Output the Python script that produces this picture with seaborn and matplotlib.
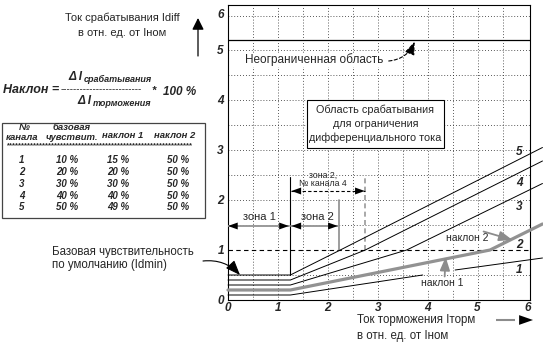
import numpy as np
import pandas as pd
import matplotlib
matplotlib.use('Agg')
import matplotlib.pyplot as plt
from matplotlib.patches import Rectangle
import seaborn as sns

W, H = 543, 352

# Таблица каналов
channels = ['1', '2', '3', '4', '5']
base_sens = ['10 %', '20 %', '30 %', '40 %', '50 %']
slope_1 = ['15 %', '20 %', '30 %', '40 %', '49 %']
slope_2 = ['50 %', '50 %', '50 %', '50 %', '50 %']

# Точки излома характеристик, отн. ед.
ch1_x = [0, 1.25, 3.9]
ch1_y = [0.1, 0.1, 0.50]
ch1b_x = [4.55, 6.3]
ch1b_y = [0.6, 0.84]
ch2_x = [0, 1.25, 5.25, 6.3]
ch2_y = [0.2, 0.2, 1.0, 1.52]
ch3_x = [0, 1.25, 3.58, 6.3]
ch3_y = [0.3, 0.3, 1.0, 2.33]
ch4_x = [0, 1.25, 2.75, 6.3]
ch4_y = [0.4, 0.4, 1.0, 2.78]
ch5_x = [0, 1.25, 2.25, 6.3]
ch5_y = [0.5, 0.5, 1.0, 3.05]

# подписи характеристик справа
curve_label_y = [0.6, 1.1, 1.86, 2.34, 2.96]
x_ticks = [0, 1, 2, 3, 4, 5, 6]
y_ticks = [0, 1, 2, 3, 4, 5, 5.74]
y_tick_labels = ['0', '1', '2', '3', '4', '5', '6']


def F(px, py):
    """пиксели картинки -> доли фигуры"""
    return (px / W, 1 - py / H)


rows = []
for ch, seg, xs, ys in [('1', 'a', ch1_x, ch1_y), ('1', 'b', ch1b_x, ch1b_y),
                        ('2', 'a', ch2_x, ch2_y), ('3', 'a', ch3_x, ch3_y),
                        ('4', 'a', ch4_x, ch4_y), ('5', 'a', ch5_x, ch5_y)]:
    for x, y in zip(xs, ys):
        rows.append({'ch': ch, 'seg': seg, 'x': x, 'y': y})
df = pd.DataFrame(rows)

sns.set_style('white')
plt.rcParams['font.family'] = ['Liberation Sans', 'DejaVu Sans']

fig = plt.figure(figsize=(W / 100, H / 100), dpi=100)
ax = fig.add_axes([228 / W, 1 - 300 / H, 302 / W, 295 / H])

# сетка
dots = (0, (1, 2.5))
ax.vlines(np.arange(0.5, 6.0, 0.5), 0, 5.9, colors='#222222', lw=0.6, linestyles=dots, zorder=1)
ax.hlines([0.5, 1.5, 2.0, 2.5, 3.0, 3.5, 4.0, 4.5, 5.0, 5.68], 0, 6.05, colors='#222222', lw=0.6,
          linestyles=dots, zorder=1)
ax.axhline(1.0, color='black', lw=0.8, ls=(0, (4, 3)), zorder=1)
ax.axhline(5.2, color='black', lw=0.9, zorder=2)

# характеристики
for ch in ['1', '3', '4', '5']:
    sns.lineplot(data=df[df.ch == ch], x='x', y='y', units='seg', estimator=None, sort=False,
                 color='black', lw=0.7, clip_on=False, ax=ax, zorder=4)
sns.lineplot(data=df[df.ch == '2'], x='x', y='y', units='seg', estimator=None, sort=False,
             color='#929292', lw=2.3, clip_on=False, ax=ax, zorder=5)

ax.set_xlim(0, 6.05)
ax.set_ylim(0, 5.9)
ax.set_xlabel('')
ax.set_ylabel('')
ax.set_xticks(x_ticks)
ax.set_yticks(y_ticks)
ax.set_yticklabels(y_tick_labels)
ax.tick_params(axis='x', length=0, labelsize=8.5, pad=1.5)
ax.tick_params(axis='y', length=0, labelsize=8.5, pad=3)
for t in ax.get_xticklabels() + ax.get_yticklabels():
    t.set_fontweight('bold')
    t.set_fontstyle('italic')
for s in ax.spines.values():
    s.set_color('black')
    s.set_linewidth(0.8)

for lab, yy in zip(channels, curve_label_y):
    ax.text(5.84, yy, lab, fontsize=8.5, fontweight='bold', fontstyle='italic',
            ha='center', va='center', zorder=6)

# зоны
ax.plot([1.25, 1.25], [0.5, 2.46], color='black', lw=0.8, zorder=3)
ax.plot([2.22, 2.22], [1.0, 2.0], color='#8c8c8c', lw=1.2, zorder=3)
ax.plot([2.74, 2.74], [1.0, 2.48], color='#9a9a9a', lw=1.2, ls=(0, (3, 2)), zorder=3)


def head(tip, frm, color='black', hl=0.7, hw=0.25):
    ax.annotate('', xy=tip, xytext=frm,
                arrowprops=dict(arrowstyle='-|>,head_length=%s,head_width=%s' % (hl, hw),
                                color=color, lw=0, shrinkA=0, shrinkB=0), zorder=7)


def dbl_arrow(x0, x1, y, shaft, ls='-', lw=1.4):
    ax.plot([x0, x1], [y, y], color=shaft, lw=lw, ls=ls, zorder=6)
    head((x0, y), (x0 + 0.2, y))
    head((x1, y), (x1 - 0.2, y))


dbl_arrow(0.0, 1.22, 1.48, '#9a9a9a')
dbl_arrow(1.27, 2.2, 1.48, '#9a9a9a')
dbl_arrow(1.27, 2.74, 2.18, 'black', ls=(0, (3, 2)), lw=0.8)
ax.text(0.62, 1.66, 'зона 1', fontsize=8, ha='center', va='center', zorder=6)
ax.text(1.8, 1.66, 'зона 2', fontsize=8, ha='center', va='center', zorder=6)
ax.text(1.9, 2.5, 'зона 2,', fontsize=6.3, ha='center', va='center', zorder=6)
ax.text(1.9, 2.33, '№ канала 4', fontsize=6.3, ha='center', va='center', zorder=6)

# наклоны
ax.text(4.8, 1.24, 'наклон 2', fontsize=7.5, ha='center', va='center', zorder=6,
        bbox=dict(fc='white', ec='none', pad=0.5))
ax.annotate('', xy=(5.7, 1.2), xytext=(5.12, 1.37),
            arrowprops=dict(arrowstyle='-|>,head_length=0.8,head_width=0.3', color='#8c8c8c',
                            lw=1.3, shrinkA=0, shrinkB=0), zorder=7)
ax.text(4.3, 0.34, 'наклон 1', fontsize=7.5, ha='center', va='center', zorder=6,
        bbox=dict(fc='white', ec='none', pad=0.5))
ax.annotate('', xy=(4.36, 0.86), xytext=(4.34, 0.47),
            arrowprops=dict(arrowstyle='-|>,head_length=0.8,head_width=0.3', color='#8c8c8c',
                            lw=1.3, shrinkA=0, shrinkB=0), zorder=7)

# неограниченная область
ax.text(0.34, 4.8, 'Неограниченная область', fontsize=8.5, ha='left', va='center', zorder=6,
        bbox=dict(fc='white', ec='none', pad=0.5))
ax.annotate('', xy=(3.74, 5.17), xytext=(3.22, 4.78),
            arrowprops=dict(arrowstyle='-|>,head_length=0.8,head_width=0.3', color='black',
                            lw=0.8, ls=(0, (3, 2)), connectionstyle='arc3,rad=0.3',
                            shrinkA=0, shrinkB=0), zorder=7)

# рамка области срабатывания
ax.add_patch(Rectangle((1.58, 3.04), 2.74, 0.96, fc='white', ec='black', lw=0.8, zorder=5))
for yy, s in zip([3.8, 3.52, 3.24], ['Область срабатывания', 'для ограничения',
                                     'дифференциального тока']):
    ax.text(2.95, yy, s, fontsize=7.8, ha='center', va='center', zorder=6)

# базовая чувствительность
fig.text(*F(52, 252), 'Базовая чувствительность', fontsize=8.3, ha='left', va='center')
fig.text(*F(52, 265), 'по умолчанию (Idmin)', fontsize=8.3, ha='left', va='center')
ax.annotate('', xy=(0.24, 0.5), xycoords='data', xytext=F(203, 261), textcoords='figure fraction',
            arrowprops=dict(arrowstyle='-|>,head_length=0.9,head_width=0.35', color='black', lw=0.8,
                            connectionstyle='arc3,rad=-0.25', shrinkA=0, shrinkB=0))

# подписи осей
fig.text(*F(122, 18), 'Ток срабатывания Idiff', fontsize=8, ha='center', va='center')
fig.text(*F(122, 33), 'в отн. ед. от Iном', fontsize=8, ha='center', va='center')
fig.add_artist(matplotlib.patches.FancyArrowPatch(
    F(198, 56), F(198, 18), transform=fig.transFigure, color='black', lw=0.9,
    arrowstyle='-|>,head_length=7,head_width=3.5', shrinkA=0, shrinkB=0))

fig.text(*F(357, 320), 'Ток торможения Iторм', fontsize=8.3, ha='left', va='center')
fig.text(*F(357, 336), 'в отн. ед. от Iном', fontsize=8.3, ha='left', va='center')
fig.add_artist(matplotlib.patches.Polygon([F(496, 320), F(515, 320)], closed=False,
                                          transform=fig.transFigure, color='#8c8c8c', lw=1.5))
fig.add_artist(matplotlib.patches.FancyArrowPatch(
    F(508, 320), F(533, 320), transform=fig.transFigure, color='black', lw=0,
    arrowstyle='-|>,head_length=10,head_width=3.5', shrinkA=0, shrinkB=0))

# формула наклона
bi = dict(fontweight='bold', fontstyle='italic')
fig.text(*F(3, 90), 'Наклон =', fontsize=9, ha='left', va='center', **bi)
fig.text(*F(61, 89), '-' * 25, fontsize=7, ha='left', va='center')
fig.text(*F(152, 91), '*', fontsize=8, ha='left', va='center', **bi)
fig.text(*F(163, 92), '100 %', fontsize=8.5, ha='left', va='center', **bi)
fig.text(*F(68, 77), 'Δ I', fontsize=8.5, ha='left', va='center', **bi)
fig.text(*F(84, 79), 'срабатывания', fontsize=6.5, ha='left', va='center', **bi)
fig.text(*F(77, 101), 'Δ I', fontsize=8.5, ha='left', va='center', **bi)
fig.text(*F(93, 103), 'торможения', fontsize=6.5, ha='left', va='center', **bi)

# таблица
x0, y0 = F(2, 218)
x1, y1 = F(205, 123)
fig.add_artist(Rectangle((x0, y0), x1 - x0, y1 - y0, transform=fig.transFigure,
                         fc='none', ec='#444444', lw=0.9))
fig.text(*F(24, 127), '№', fontsize=6.8, ha='center', va='center', **bi)
fig.text(*F(22, 138), 'канала', fontsize=6.8, ha='center', va='center', **bi)
fig.text(*F(72, 127), 'базовая', fontsize=6.8, ha='center', va='center', **bi)
fig.text(*F(72, 138), 'чувствит.', fontsize=6.8, ha='center', va='center', **bi)
fig.text(*F(123, 135), 'наклон 1', fontsize=6.8, ha='center', va='center', **bi)
fig.text(*F(175, 135), 'наклон 2', fontsize=6.8, ha='center', va='center', **bi)
fig.text(*F(100, 146), '*' * 62, fontsize=5.5, ha='center', va='center', fontweight='bold')
row_y = [160, 172, 184, 196, 207]
for i in range(5):
    fig.text(*F(22, row_y[i]), channels[i], fontsize=7, ha='center', va='center', **bi)
    fig.text(*F(67, row_y[i]), base_sens[i], fontsize=7, ha='center', va='center', **bi)
    fig.text(*F(118, row_y[i]), slope_1[i], fontsize=7, ha='center', va='center', **bi)
    fig.text(*F(178, row_y[i]), slope_2[i], fontsize=7, ha='center', va='center', **bi)

fig.savefig('out.png', dpi=100, facecolor='white')
